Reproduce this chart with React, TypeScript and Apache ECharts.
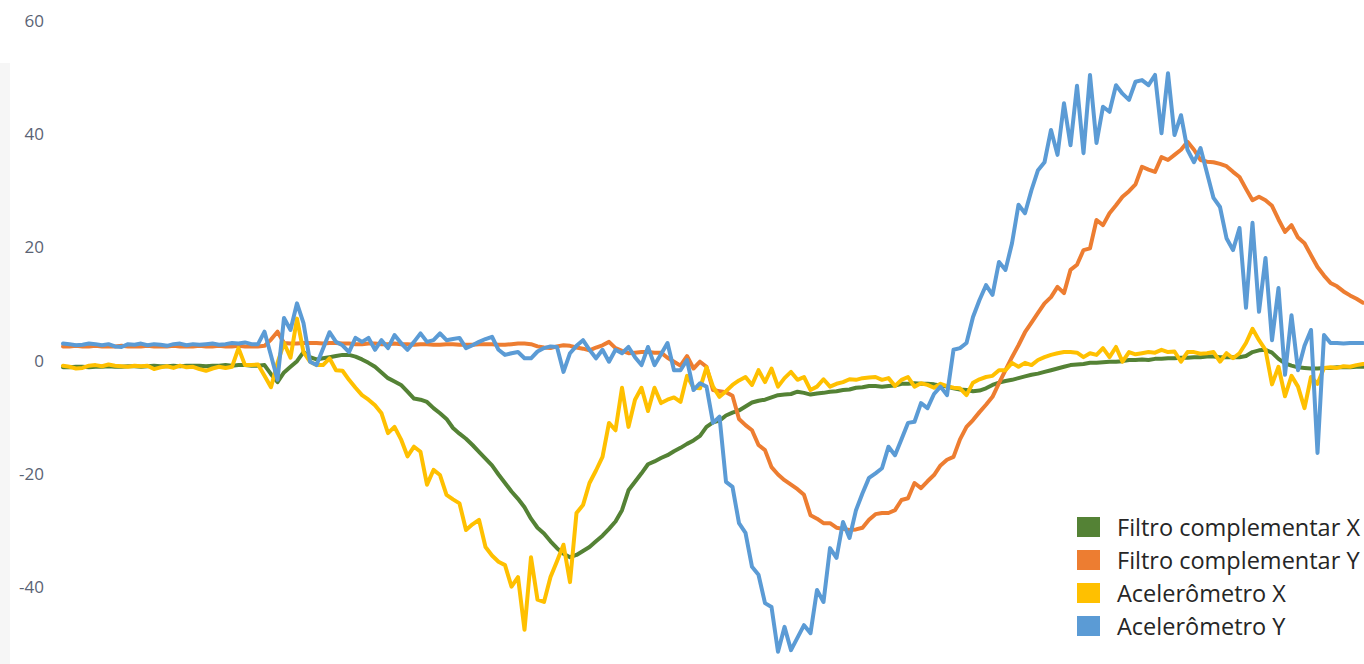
import React, { useEffect, useRef } from "react";
import * as echarts from "echarts";

// Filtro complementar X (green)
const filtroX = [
  -1.3, -1.3, -1.2, -1.2, -1.3, -1.2, -1.2, -1.1, -1.2, -1.2,
  -1.1, -1.1, -1.2, -1.1, -1.0, -1.1, -1.1, -1.0, -1.1, -1.0,
  -1.0, -1.0, -1.1, -1.0, -1.0, -0.9, -1.0, -0.9, -0.9, -1.0,
  -1.0, -0.9, -2.5, -3.9, -2.2, -1.2, -0.2, 1.4, 0.5, 0.1,
  0.3, 0.5, 0.7, 0.9, 0.9, 0.6, 0.1, -0.5, -1.2, -2.2,
  -3.2, -3.8, -4.4, -5.6, -6.8, -7.0, -7.4, -8.5, -9.4, -10.4,
  -12.0, -13.0, -13.9, -15.0, -16.2, -17.4, -18.6, -20.2, -21.7, -23.2,
  -24.5, -26.0, -28.0, -29.6, -30.6, -32.0, -33.2, -34.2, -34.8, -34.4,
  -33.7, -33.0, -32.0, -31.0, -29.8, -28.5, -26.5, -23.0, -21.5, -20.0,
  -18.4, -17.9, -17.3, -16.8, -16.1, -15.5, -14.8, -14.2, -13.4, -11.8,
  -11.0, -10.7, -9.8, -9.3, -8.9, -8.2, -7.5, -7.2, -7.0, -6.6,
  -6.2, -6.1, -6.0, -5.6, -5.8, -6.1, -5.9, -5.8, -5.6, -5.5,
  -5.3, -5.2, -4.9, -4.8, -4.6, -4.6, -4.7, -4.6, -4.5, -4.2,
  -4.2, -4.1, -4.2, -4.2, -4.3, -4.5, -4.7, -5.0, -5.2, -5.3,
  -5.5, -5.4, -5.0, -4.4, -4.0, -3.7, -3.5, -3.2, -2.9, -2.6,
  -2.4, -2.1, -1.8, -1.5, -1.2, -0.9, -0.8, -0.7, -0.5, -0.5,
  -0.4, -0.3, -0.3, -0.2, 0.0, 0.0, 0.1, 0.0, 0.2, 0.2,
  0.3, 0.3, 0.4, 0.4, 0.5, 0.5, 0.6, 0.6, 0.5, 0.5,
  0.5, 0.5, 0.7, 1.4, 1.7, 1.8, 1.3, 0.2, -0.6, -1.0,
  -1.3, -1.4, -1.5, -1.5, -1.4, -1.4, -1.3, -1.3, -1.3, -1.2, -1.2,
];

// Filtro complementar Y (orange)
const filtroY = [
  2.4, 2.4, 2.5, 2.4, 2.4, 2.5, 2.4, 2.4, 2.4, 2.5,
  2.4, 2.4, 2.4, 2.5, 2.4, 2.4, 2.4, 2.5, 2.4, 2.4,
  2.4, 2.5, 2.4, 2.4, 2.5, 2.4, 2.4, 2.5, 2.4, 2.4,
  2.4, 2.5, 3.6, 5.0, 3.0, 2.9, 2.9, 3.0, 3.0, 3.0,
  2.9, 3.0, 3.0, 2.9, 2.9, 2.8, 2.8, 2.9, 2.9, 2.8,
  2.8, 2.9, 2.8, 2.8, 2.7, 2.8, 2.8, 2.7, 2.7, 2.8,
  2.8, 2.7, 2.7, 2.7, 2.8, 2.8, 2.8, 2.7, 2.7, 2.8,
  2.9, 2.9, 2.8, 2.4, 2.2, 2.1, 2.4, 2.6, 2.5, 2.2,
  2.0, 1.7, 2.2, 2.6, 3.2, 2.1, 1.6, 1.2, 1.3, 1.4,
  1.4, 1.3, 1.3, 0.4, -0.3, -1.0, 0.7, -1.5, -0.3, -1.2,
  -5.3, -5.5, -5.7, -6.3, -10.4, -11.5, -12.4, -15.0, -15.9, -18.9,
  -20.2, -21.2, -22.0, -22.8, -23.8, -27.4, -28.0, -28.8, -28.8, -29.6,
  -29.8, -30.0, -29.9, -29.6, -28.2, -27.2, -27.0, -27.0, -26.5, -24.7,
  -24.4, -21.7, -22.6, -21.4, -20.3, -18.6, -17.6, -17.1, -14.0, -11.8,
  -10.6, -9.2, -7.9, -6.5, -4.1, -1.8, 0.5, 2.6, 4.9, 6.6,
  8.3, 10.0, 11.1, 12.9, 11.8, 15.9, 16.8, 19.4, 19.7, 24.7,
  23.8, 25.9, 27.3, 28.8, 29.8, 31.0, 34.1, 33.6, 33.2, 35.8,
  35.3, 36.2, 37.1, 38.5, 37.1, 35.3, 35.0, 34.9, 34.6, 34.2,
  33.2, 32.3, 30.2, 28.2, 28.8, 28.2, 27.2, 24.8, 22.6, 23.8,
  21.6, 20.6, 18.5, 16.4, 14.9, 13.6, 13.0, 12.1, 11.4, 10.8, 10.1,
];

// Acelerômetro X (yellow)
const acelX = [
  -1.0, -1.2, -1.5, -1.4, -1.0, -0.9, -1.1, -0.8, -1.0, -1.1,
  -1.2, -1.0, -1.1, -1.0, -1.6, -1.3, -1.1, -1.4, -1.0, -1.3,
  -1.2, -1.6, -1.9, -1.5, -1.2, -1.4, -1.2, 2.1, -0.9, -0.9,
  -0.8, -2.8, -4.8, -0.5, 3.0, 0.4, 7.3, 1.4, -0.3, -0.9,
  -0.9, 0.3, -1.8, -1.9, -3.5, -4.9, -6.2, -7.0, -8.0, -9.4,
  -12.9, -11.8, -14.0, -17.0, -15.3, -16.2, -22.0, -19.4, -20.3, -23.8,
  -24.6, -25.3, -30.0, -29.0, -28.2, -33.0, -34.5, -35.6, -36.2, -40.0,
  -38.3, -47.6, -34.8, -42.3, -42.7, -38.3, -35.5, -32.6, -39.2, -27.0,
  -25.6, -21.7, -19.5, -17.1, -11.1, -12.4, -4.9, -11.8, -7.0, -4.9,
  -9.0, -4.9, -7.6, -7.0, -6.6, -7.4, -2.8, -4.9, -5.0, -1.3,
  -4.7, -6.5, -5.5, -4.4, -3.6, -3.0, -4.4, -1.8, -3.9, -1.5,
  -4.7, -3.2, -2.1, -3.5, -3.0, -5.3, -4.7, -3.4, -4.7, -4.2,
  -3.9, -3.4, -3.5, -3.2, -3.1, -3.0, -3.5, -3.2, -4.6, -3.5,
  -3.0, -4.7, -4.1, -4.4, -4.9, -4.2, -4.6, -4.9, -5.0, -6.2,
  -4.0, -3.4, -3.0, -2.8, -1.8, -1.8, -0.5, -1.2, -0.5, -0.9,
  0.0, 0.5, 0.9, 1.2, 1.4, 1.4, 1.3, 0.5, 1.2, 0.9,
  2.1, 0.5, 2.3, -0.3, 1.4, 1.0, 1.2, 1.4, 1.3, 1.8,
  1.4, 1.5, -0.3, 1.4, 1.4, 1.1, 1.2, 1.4, -0.3, 1.2,
  0.3, 1.2, 3.0, 5.5, 3.5, 1.8, -4.3, -1.2, -6.4, -2.8,
  -4.7, -8.5, -3.0, -4.2, -1.4, -1.3, -1.4, -1.1, -1.2, -0.9, -0.7,
];

// Acelerômetro Y (blue)
const acelY = [
  2.9, 2.8, 2.6, 2.7, 2.9, 2.8, 2.6, 2.8, 2.4, 2.3,
  2.8, 2.7, 2.9, 2.6, 2.8, 2.7, 2.5, 2.8, 2.9, 2.6,
  2.8, 2.7, 2.8, 2.9, 2.7, 2.8, 3.0, 2.9, 3.1, 2.8,
  2.8, 5.0, 0.8, -3.5, 7.4, 5.3, 10.0, 6.5, -0.3, -0.9,
  2.0, 4.9, 3.2, 2.6, 1.4, 3.9, 3.2, 3.9, 1.8, 3.5,
  2.1, 4.4, 3.0, 1.8, 3.2, 4.7, 3.2, 3.5, 4.7, 3.5,
  3.7, 3.9, 2.1, 2.6, 3.2, 3.7, 4.1, 1.8, 0.9, 1.2,
  1.4, 0.3, 0.3, 1.5, 2.1, 2.4, 2.3, -2.1, 1.2, 2.5,
  3.5, 1.8, 0.3, 1.8, -0.3, 1.8, 1.2, 2.3, 0.5, -0.9,
  2.3, -0.9, 1.0, 3.0, -1.8, -1.8, 0.0, -5.3, -4.1, -4.7,
  -11.1, -10.0, -21.5, -22.4, -28.8, -30.5, -36.5, -37.9, -42.9, -43.6,
  -51.5, -47.1, -51.2, -49.0, -46.8, -48.2, -40.6, -42.7, -33.2, -34.9,
  -28.6, -31.4, -26.5, -23.5, -20.8, -20.0, -19.1, -15.3, -16.8, -14.0,
  -11.1, -10.9, -7.6, -8.5, -6.0, -4.7, -6.2, 1.8, 2.1, 3.0,
  7.6, 10.6, 13.2, 11.5, 17.3, 15.9, 20.6, 27.4, 25.9, 30.0,
  33.5, 34.9, 40.6, 36.2, 45.3, 37.9, 48.4, 36.5, 50.3, 38.3,
  44.7, 43.8, 48.5, 47.0, 45.9, 49.1, 49.4, 48.5, 50.3, 40.0,
  50.6, 39.7, 43.2, 37.1, 34.9, 37.4, 33.0, 28.6, 27.0, 21.5,
  19.4, 23.3, 9.2, 24.2, 8.5, 18.0, 3.5, 12.7, -2.6, 7.9,
  -1.8, 2.5, 5.3, -16.4, 4.4, 3.0, 3.0, 2.9, 3.0, 3.0, 3.0,
];

const seriesNames = [
  "Filtro complementar X",
  "Filtro complementar Y",
  "Acelerômetro X",
  "Acelerômetro Y",
];
const seriesColors = ["#548235", "#ED7D31", "#FFC000", "#5B9BD5"];
const yMin = -60;
const yMax = 60;
const yStep = 20;

export default function App() {
  const ref = useRef<HTMLDivElement>(null);

  useEffect(() => {
    document.body.style.margin = "0";
    const el = ref.current;
    if (!el) return;
    const chart = echarts.init(el, null, { renderer: "svg" });
    const samples = filtroX.map((_, i) => String(i + 1));
    const allData = [filtroX, filtroY, acelX, acelY];

    chart.setOption({
      animation: false,
      backgroundColor: "#ffffff",
      graphic: [
        {
          type: "rect",
          left: 0,
          top: 63,
          shape: { width: 10, height: 601 },
          style: { fill: "#f6f6f6" },
          z: -1,
          silent: true,
        },
      ],
      grid: {
        left: 63,
        right: 1,
        top: 20,
        bottom: -36,
        containLabel: false,
        outerBoundsMode: "none",
      },
      xAxis: {
        type: "category",
        data: samples,
        boundaryGap: false,
        axisLine: { show: false },
        axisTick: { show: false },
        axisLabel: { show: false },
        splitLine: { show: false },
      },
      yAxis: {
        type: "value",
        min: yMin,
        max: yMax,
        interval: yStep,
        axisLine: { show: false },
        axisTick: { show: false },
        splitLine: { show: false },
        axisLabel: {
          color: "#5a6374",
          fontSize: 17,
          fontFamily: "Open Sans",
          margin: 19,
          showMinLabel: false,
        },
      },
      legend: {
        orient: "vertical",
        left: 1077,
        top: 515,
        padding: 0,
        itemWidth: 23,
        itemHeight: 20,
        itemGap: 9,
        icon: "rect",
        data: seriesNames,
        textStyle: {
          fontFamily: "Open Sans",
          fontSize: 23.5,
          color: "#262626",
          padding: [0, 0, 0, 12],
        },
      },
      series: seriesNames.map((name, k) => ({
        name,
        type: "line",
        data: allData[k],
        symbol: "none",
        showSymbol: false,
        color: seriesColors[k],
        lineStyle: {
          width: 4,
          color: seriesColors[k],
          cap: "round",
          join: "round",
        },
        z: 2 + k,
      })),
    });

    return () => {
      chart.dispose();
    };
  }, []);

  return (
    <div
      ref={ref}
      style={{
        position: "fixed",
        left: 0,
        top: 0,
        width: 1364,
        height: 664,
        background: "#ffffff",
      }}
    />
  );
}
